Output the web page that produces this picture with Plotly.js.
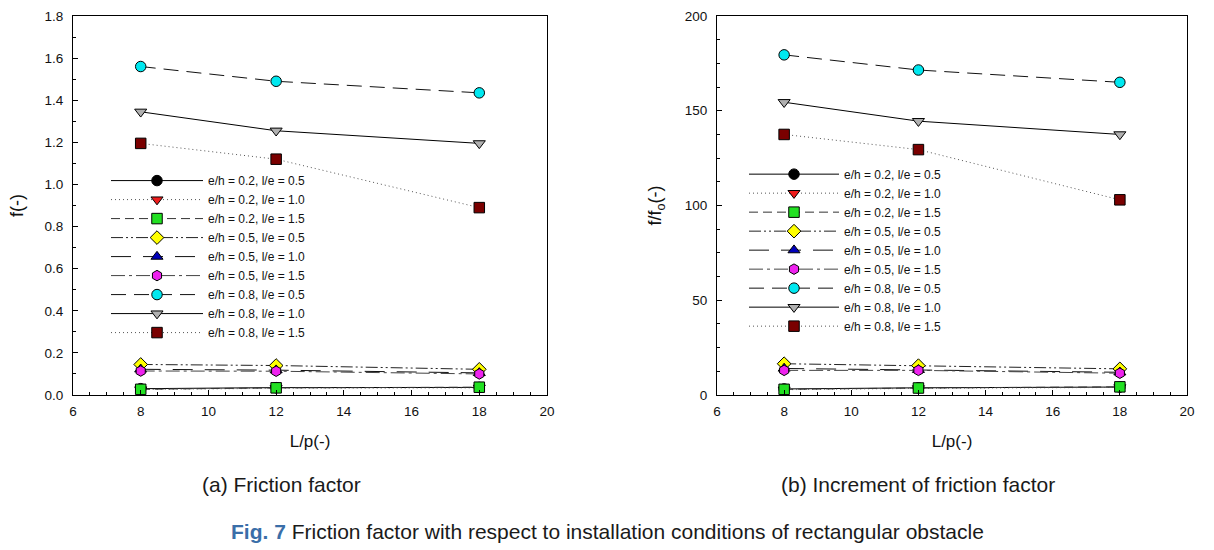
<!DOCTYPE html>
<html>
<head>
<meta charset="utf-8">
<script src="https://cdn.plot.ly/plotly-3.0.1.min.js"></script>
<style>
html,body{margin:0;padding:0;background:#fff;}
#chart{width:1214px;height:550px;}
</style>
</head>
<body>
<div id="chart"></div>
<script>
// ---- data ----
var Lp = [8, 12, 18];
var seriesNames = [
  "e/h = 0.2, l/e = 0.5", "e/h = 0.2, l/e = 1.0", "e/h = 0.2, l/e = 1.5",
  "e/h = 0.5, l/e = 0.5", "e/h = 0.5, l/e = 1.0", "e/h = 0.5, l/e = 1.5",
  "e/h = 0.8, l/e = 0.5", "e/h = 0.8, l/e = 1.0", "e/h = 0.8, l/e = 1.5"
];
// (a) friction factor f(-)
var f_02_05 = [0.030, 0.035, 0.036];
var f_02_10 = [0.026, 0.032, 0.034];
var f_02_15 = [0.027, 0.034, 0.037];
var f_05_05 = [0.145, 0.140, 0.122];
var f_05_10 = [0.122, 0.118, 0.105];
var f_05_15 = [0.114, 0.113, 0.100];
var f_08_05 = [1.560, 1.490, 1.435];
var f_08_10 = [1.345, 1.255, 1.195];
var f_08_15 = [1.195, 1.120, 0.890];
// (b) increment of friction factor f/fo(-)
var r_02_05 = [3.2, 3.8, 4.2];
var r_02_10 = [2.8, 3.5, 4.0];
var r_02_15 = [3.0, 3.7, 4.3];
var r_05_05 = [16.5, 15.5, 13.8];
var r_05_10 = [14.0, 13.3, 12.0];
var r_05_15 = [13.0, 13.0, 11.5];
var r_08_05 = [179.5, 171.5, 165.0];
var r_08_10 = [154.5, 144.5, 137.5];
var r_08_15 = [137.5, 129.5, 103.0];

var fSeries = [f_02_05, f_02_10, f_02_15, f_05_05, f_05_10, f_05_15, f_08_05, f_08_10, f_08_15];
var rSeries = [r_02_05, r_02_10, r_02_15, r_05_05, r_05_10, r_05_15, r_08_05, r_08_10, r_08_15];

// ---- styles ----
var styles = [
  {sym: "circle",        fill: "#000000", dash: "solid",               lc: "#000000"},
  {sym: "triangle-down", fill: "#ee1c1c", dash: "1px,3px",             lc: "#555555"},
  {sym: "square",        fill: "#22e022", dash: "9px,5px",             lc: "#333333"},
  {sym: "diamond",       fill: "#ffff00", dash: "12px,3px,2px,3px,2px,3px", lc: "#222222"},
  {sym: "triangle-up",   fill: "#0000bb", dash: "20px,12px",           lc: "#111111"},
  {sym: "hexagon",       fill: "#ee22ee", dash: "14px,4px,3px,4px",    lc: "#444444"},
  {sym: "circle",        fill: "#00e8f0", dash: "15px,8px",            lc: "#111111"},
  {sym: "triangle-down", fill: "#b0b0b0", dash: "solid",               lc: "#000000"},
  {sym: "square",        fill: "#7a0000", dash: "1px,3px",             lc: "#555555"}
];

var traces = [];
function addSet(data, xa, ya, leg) {
  for (var i = 0; i < data.length; i++) {
    var s = styles[i];
    traces.push({
      x: Lp, y: data[i], xaxis: xa, yaxis: ya, legend: leg,
      name: seriesNames[i], type: "scatter", mode: "lines+markers",
      line: {color: s.lc, width: 1, dash: s.dash},
      marker: {symbol: s.sym, size: 10.5, color: s.fill, line: {color: "#000000", width: 1}}
    });
  }
}
addSet(fSeries, "x", "y", "legend");
addSet(rSeries, "x2", "y2", "legend2");

var FONT = "Liberation Sans, Arial, sans-serif";
var tickFont = {family: FONT, size: 13.5, color: "#111"};
function xAxis(dom, anchor) {
  return {
    domain: dom, anchor: anchor, range: [6, 20], dtick: 2, tick0: 6,
    ticks: "inside", ticklen: 5, tickcolor: "#000", tickwidth: 1,
    minor: {dtick: 0.5, ticks: "inside", ticklen: 3, tickcolor: "#000", showgrid: false},
    showline: true, linecolor: "#000", linewidth: 1, mirror: true,
    showgrid: false, zeroline: false, tickfont: tickFont, ticklabelstandoff: 4,
    title: {text: "L/p(-)", font: {family: FONT, size: 17, color: "#111"}, standoff: 16}
  };
}
var layout = {
  width: 1214, height: 550,
  margin: {l: 0, r: 0, t: 16, b: 155},
  paper_bgcolor: "#fff", plot_bgcolor: "#fff",
  showlegend: true,
  xaxis: xAxis([73/1214, 547/1214], "y"),
  xaxis2: xAxis([717/1214, 1187/1214], "y2"),
  yaxis: {
    domain: [0, 1], anchor: "x", range: [0, 1.8], dtick: 0.2, tickformat: ".1f",
    ticks: "inside", ticklen: 5, tickcolor: "#000",
    minor: {dtick: 0.1, ticks: "inside", ticklen: 3, tickcolor: "#000", showgrid: false},
    showline: true, linecolor: "#000", linewidth: 1, mirror: true,
    showgrid: false, zeroline: false, tickfont: tickFont, ticklabelstandoff: 6,
    title: {text: "f(-)", font: {family: FONT, size: 18, color: "#111"}, standoff: 16}
  },
  yaxis2: {
    domain: [0, 1], anchor: "x2", range: [0, 200], dtick: 50,
    ticks: "inside", ticklen: 5, tickcolor: "#000",
    minor: {dtick: 12.5, ticks: "inside", ticklen: 3, tickcolor: "#000", showgrid: false},
    showline: true, linecolor: "#000", linewidth: 1, mirror: true,
    showgrid: false, zeroline: false, tickfont: tickFont, ticklabelstandoff: 6,
    title: {text: "f/f<sub>o</sub>(-)", font: {family: FONT, size: 18, color: "#111"}, standoff: 18}
  },
  legend: {
    x: 106/1214, y: 0.604, xanchor: "left", yanchor: "top",
    bgcolor: "rgba(0,0,0,0)", borderwidth: 0, itemwidth: 92, tracegroupgap: 0,
    font: {family: FONT, size: 12, color: "#111"}
  },
  legend2: {
    x: 744/1214, y: 0.621, xanchor: "left", yanchor: "top",
    bgcolor: "rgba(0,0,0,0)", borderwidth: 0, itemwidth: 90, tracegroupgap: 0,
    font: {family: FONT, size: 12, color: "#111"}
  },
  annotations: [
    {text: "(a) Friction factor", xref: "paper", yref: "paper", x: 281/1214, y: -89/379,
     xanchor: "center", yanchor: "middle", showarrow: false,
     font: {family: FONT, size: 21, color: "#1a1a1a"}},
    {text: "(b) Increment of friction factor", xref: "paper", yref: "paper", x: 918/1214, y: -89/379,
     xanchor: "center", yanchor: "middle", showarrow: false,
     font: {family: FONT, size: 21, color: "#1a1a1a"}},
    {text: "<span style='color:#3a6ea8;font-weight:bold'>Fig. 7</span> Friction factor with respect to installation conditions of rectangular obstacle",
     xref: "paper", yref: "paper", x: 607/1214, y: -136/379,
     xanchor: "center", yanchor: "middle", showarrow: false,
     font: {family: FONT, size: 21, color: "#1a1a1a"}}
  ]
};

Plotly.newPlot("chart", traces, layout, {displayModeBar: false, staticPlot: true});
</script>
</body>
</html>
